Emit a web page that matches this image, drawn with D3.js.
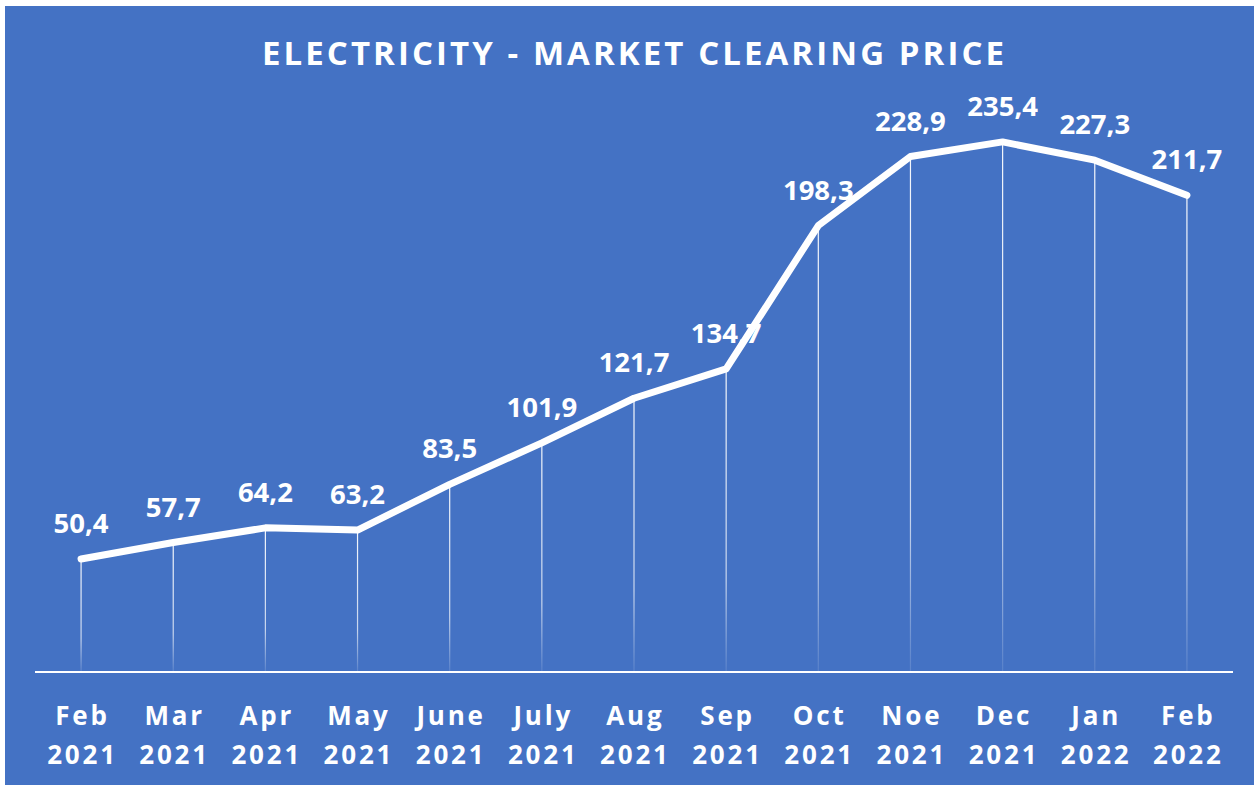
<!DOCTYPE html>
<html lang="en">
<head>
  <meta charset="UTF-8">
  <title>Electricity - Market Clearing Price</title>
  <script src="https://d3js.org/d3.v7.min.js"></script>
  <style>
    body { margin: 0; background: #fff; font-family: "Open Sans", Arial, sans-serif; }
    svg text { fill: #fff; font-weight: bold; }
  </style>
</head>
<body>
<div id="chart"></div>
<script>
const months = ["Feb", "Mar", "Apr", "May", "June", "July", "Aug", "Sep", "Oct", "Noe", "Dec", "Jan", "Feb"];
const years = ["2021", "2021", "2021", "2021", "2021", "2021", "2021", "2021", "2021", "2021", "2021", "2022", "2022"];
const prices = [50.4, 57.7, 64.2, 63.2, 83.5, 101.9, 121.7, 134.7, 198.3, 228.9, 235.4, 227.3, 211.7];

const width = 1254, height = 787;
const keys = months.map((m, i) => i);

const svg = d3.select("#chart").append("svg")
  .attr("width", width)
  .attr("height", height);

// fading drop lines
const defs = svg.append("defs");
const grad = defs.append("linearGradient")
  .attr("id", "drop")
  .attr("x1", 0).attr("y1", 0).attr("x2", 0).attr("y2", 1);
grad.append("stop").attr("offset", "0%").attr("stop-color", "#fff").attr("stop-opacity", 0.95);
grad.append("stop").attr("offset", "70%").attr("stop-color", "#fff").attr("stop-opacity", 0.7);
grad.append("stop").attr("offset", "100%").attr("stop-color", "#fff").attr("stop-opacity", 0.1);

svg.append("rect")
  .attr("x", 5).attr("y", 6)
  .attr("width", width - 5).attr("height", 779)
  .attr("fill", "#4472C4");

svg.append("text")
  .attr("x", 633).attr("y", 65)
  .attr("text-anchor", "middle")
  .attr("font-size", 33)
  .attr("textLength", 742)
  .attr("lengthAdjust", "spacing")
  .text("ELECTRICITY - MARKET CLEARING PRICE");

const x = d3.scaleBand()
  .domain(keys)
  .range([35, 1233]);

const y = d3.scaleLinear()
  .domain([0, 250])
  .range([672.6, 109]);

const cx = i => x(i) + x.bandwidth() / 2;

// drop lines
svg.append("g")
  .selectAll("rect")
  .data(prices)
  .join("rect")
  .attr("x", (d, i) => cx(i) - 0.6)
  .attr("y", d => y(d))
  .attr("width", 1.2)
  .attr("height", d => y(0) - y(d))
  .attr("fill", "url(#drop)");

// baseline
svg.append("line")
  .attr("x1", 35).attr("x2", 1233)
  .attr("y1", 672).attr("y2", 672)
  .attr("stroke", "#fff")
  .attr("stroke-width", 2);

const line = d3.line()
  .x((d, i) => cx(i))
  .y(d => y(d));

svg.append("path")
  .datum(prices)
  .attr("d", line)
  .attr("fill", "none")
  .attr("stroke", "#fff")
  .attr("stroke-width", 7)
  .attr("stroke-linejoin", "round")
  .attr("stroke-linecap", "round");

// value labels
svg.append("g")
  .selectAll("text")
  .data(prices)
  .join("text")
  .attr("x", (d, i) => cx(i))
  .attr("y", d => y(d) - 26)
  .attr("text-anchor", "middle")
  .attr("font-size", 27.5)
  .text(d => d3.format(".1f")(d).replace(".", ","));

// category labels
const labels = svg.append("g")
  .selectAll("text")
  .data(keys)
  .join("text")
  .attr("text-anchor", "middle")
  .attr("font-size", 26)
  .attr("letter-spacing", 2.8);

labels.append("tspan")
  .attr("x", i => cx(i) + 1.4)
  .attr("y", 725)
  .text(i => months[i]);

labels.append("tspan")
  .attr("x", i => cx(i) + 1.4)
  .attr("y", 764)
  .text(i => years[i]);
</script>
</body>
</html>
